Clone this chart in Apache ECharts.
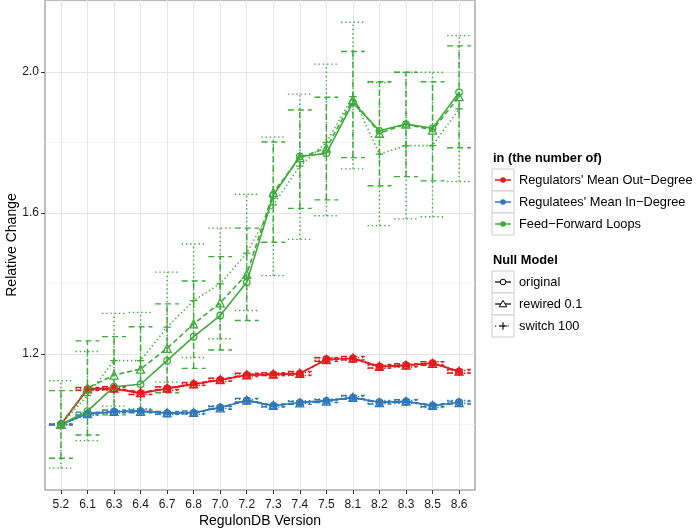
<!DOCTYPE html>
<html><head><meta charset="utf-8">
<script src="https://cdn.jsdelivr.net/npm/echarts@6/dist/echarts.min.js"></script>
<style>html,body{margin:0;padding:0;background:#fff}#c{width:700px;height:530px}</style>
</head><body><div id="c"></div>
<script>
const categories = ['5.2','6.1','6.3','6.4','6.7','6.8','7.0','7.2','7.3','7.4','7.5','8.1','8.2','8.3','8.5','8.6'];
const yTickLabels = [1.2, 1.6, 2.0];
const yMinorLines = [1.0, 1.4, 1.8, 2.2];

// Regulators' Mean Out-Degree
const redOriginal = [1.000,1.100,1.102,1.088,1.102,1.114,1.126,1.140,1.142,1.144,1.185,1.187,1.164,1.168,1.174,1.150];
const redRewired  = [1.000,1.101,1.103,1.090,1.103,1.115,1.127,1.141,1.143,1.145,1.184,1.188,1.165,1.168,1.173,1.151];
const redSwitch   = [1.000,1.099,1.101,1.089,1.101,1.113,1.126,1.139,1.142,1.143,1.186,1.186,1.163,1.167,1.174,1.149];
const redRewiredErr = [0,0.004,0.004,0.005,0.004,0.004,0.004,0.004,0.004,0.005,0.005,0.005,0.005,0.004,0.005,0.005];
const redSwitchErr  = [0,0.003,0.004,0.004,0.004,0.003,0.004,0.004,0.003,0.004,0.004,0.004,0.004,0.004,0.004,0.004];

// Regulatees' Mean In-Degree
const blueOriginal = [1.000,1.030,1.036,1.038,1.032,1.033,1.048,1.068,1.053,1.062,1.067,1.076,1.063,1.065,1.053,1.063];
const blueRewired  = [1.000,1.031,1.037,1.037,1.033,1.034,1.047,1.069,1.054,1.061,1.066,1.077,1.062,1.066,1.054,1.062];
const blueSwitch   = [1.000,1.029,1.035,1.039,1.031,1.032,1.049,1.067,1.052,1.063,1.068,1.075,1.064,1.064,1.052,1.064];
const blueRewiredErr = [0,0.004,0.004,0.004,0.004,0.004,0.004,0.005,0.004,0.004,0.004,0.005,0.004,0.004,0.004,0.004];
const blueSwitchErr  = [0,0.003,0.003,0.004,0.003,0.003,0.004,0.004,0.003,0.004,0.004,0.004,0.004,0.004,0.004,0.004];

// Feed-Forward Loops
const greenOriginal = [1.000,1.038,1.107,1.114,1.181,1.249,1.309,1.403,1.650,1.760,1.769,1.913,1.833,1.852,1.840,1.942];
const greenRewired  = [1.000,1.103,1.140,1.157,1.216,1.285,1.345,1.426,1.658,1.757,1.784,1.921,1.826,1.852,1.835,1.930];
const greenSwitch   = [1.000,1.082,1.181,1.181,1.276,1.351,1.399,1.486,1.623,1.733,1.800,1.930,1.767,1.791,1.791,1.895];
const greenRewiredLo = [0.904,0.970,1.027,1.037,1.090,1.159,1.211,1.295,1.517,1.613,1.637,1.757,1.677,1.703,1.691,1.785];
const greenRewiredHi = [1.096,1.237,1.249,1.277,1.342,1.407,1.476,1.557,1.801,1.892,1.928,2.058,1.972,1.999,1.972,2.074];
const greenSwitchLo  = [0.876,0.954,1.052,1.044,1.120,1.190,1.243,1.323,1.422,1.525,1.592,1.725,1.564,1.583,1.589,1.689];
const greenSwitchHi  = [1.124,1.207,1.315,1.318,1.432,1.512,1.557,1.653,1.815,1.937,2.022,2.141,1.970,1.999,1.999,2.103];

const metricNames = ["Regulators' Mean Out\u2212Degree", "Regulatees' Mean In\u2212Degree", "Feed\u2212Forward Loops"];
const modelNames = ['original', 'rewired 0.1', 'switch 100'];
const colors = ['#E41A1C', '#2F78B8', '#3DAA3A'];

const FONT = "'Liberation Sans', Arial, Helvetica, sans-serif";
const PLUS = 'path://M5,0 L5,10 M0,5 L10,5';
const DASH = [5, 3];
const DOT = [1.3, 2.7];
const EDASH = [6, 4];
const EDOT = [1.4, 2.8];
const CAP = 0.45;

function pairs(arr) { return arr.map((v, i) => [i, v]); }
function lineSeries(vals, color, model) {
  const sym = model === 0 ? 'circle' : model === 1 ? 'triangle' : PLUS;
  const size = model === 0 ? 6.5 : model === 1 ? 8 : 7.5;
  return {
    type: 'line', data: pairs(vals), symbol: sym, symbolSize: size,
    showSymbol: true, silent: true, animation: false,
    lineStyle: { color: color, width: 1.6, type: model === 0 ? 'solid' : model === 1 ? DASH : DOT },
    itemStyle: { color: 'rgba(0,0,0,0)', borderColor: color, borderWidth: 1.3 },
    emphasis: { disabled: true }, z: 3
  };
}
function errSeries(lo, hi, color, dash) {
  return {
    type: 'custom', silent: true, animation: false, clip: false, z: 2,
    data: lo.map((l, i) => [i, l, hi[i]]),
    encode: { x: 0, y: [1, 2] },
    renderItem: function (params, api) {
      const x = api.value(0), l = api.value(1), h = api.value(2);
      const pL = api.coord([x, l]), pH = api.coord([x, h]);
      const xl = api.coord([x - CAP, l])[0], xr = api.coord([x + CAP, l])[0];
      const st = { stroke: color, lineWidth: 1.4, lineDash: dash, fill: null };
      return { type: 'group', children: [
        { type: 'line', shape: { x1: pL[0], y1: pL[1], x2: pH[0], y2: pH[1] }, style: st },
        { type: 'line', shape: { x1: xl, y1: pL[1], x2: xr, y2: pL[1] }, style: st },
        { type: 'line', shape: { x1: xl, y1: pH[1], x2: xr, y2: pH[1] }, style: st }
      ]};
    }
  };
}
const minusPlus = (v, e, s) => v.map((x, i) => +(x + s * e[i]).toFixed(4));

const series = [];
const metrics = [
  [redOriginal, redRewired, redSwitch, minusPlus(redRewired, redRewiredErr, -1), minusPlus(redRewired, redRewiredErr, 1), minusPlus(redSwitch, redSwitchErr, -1), minusPlus(redSwitch, redSwitchErr, 1)],
  [blueOriginal, blueRewired, blueSwitch, minusPlus(blueRewired, blueRewiredErr, -1), minusPlus(blueRewired, blueRewiredErr, 1), minusPlus(blueSwitch, blueSwitchErr, -1), minusPlus(blueSwitch, blueSwitchErr, 1)],
  [greenOriginal, greenRewired, greenSwitch, greenRewiredLo, greenRewiredHi, greenSwitchLo, greenSwitchHi]
];
metrics.forEach((m, k) => {
  series.push(errSeries(m[3], m[4], colors[k], EDASH));
  series.push(errSeries(m[5], m[6], colors[k], EDOT));
  series.push(lineSeries(m[0], colors[k], 0));
  series.push(lineSeries(m[1], colors[k], 1));
  series.push(lineSeries(m[2], colors[k], 2));
});

// legend (drawn as graphic elements)
const LX = 492, KW = 22, LF = '12.8px ';
const g = [];
function keyBox(cy) {
  g.push({ type: 'rect', shape: { x: LX, y: cy - KW / 2, width: KW, height: KW }, style: { fill: '#fff', stroke: '#CCCCCC', lineWidth: 1 } });
}
g.push({ type: 'text', x: LX + 1, y: 158, style: { text: 'in (the number of)', font: 'bold ' + LF + FONT, fill: '#000', verticalAlign: 'middle' } });
metricNames.forEach((name, k) => {
  const cy = 180 + k * 22;
  keyBox(cy);
  g.push({ type: 'line', shape: { x1: LX + 3, y1: cy, x2: LX + KW - 3, y2: cy }, style: { stroke: colors[k], lineWidth: 1.5 } });
  g.push({ type: 'circle', shape: { cx: LX + KW / 2, cy: cy, r: 2.8 }, style: { fill: colors[k] } });
  g.push({ type: 'text', x: LX + KW + 5, y: cy, style: { text: name, font: LF + FONT, fill: '#000', verticalAlign: 'middle' } });
});
g.push({ type: 'text', x: LX + 1, y: 260, style: { text: 'Null Model', font: 'bold ' + LF + FONT, fill: '#000', verticalAlign: 'middle' } });
modelNames.forEach((name, k) => {
  const cy = 282 + k * 22;
  const cx = LX + KW / 2;
  keyBox(cy);
  g.push({ type: 'line', shape: { x1: LX + 3, y1: cy, x2: LX + KW - 3, y2: cy }, style: { stroke: '#000', lineWidth: 1.2, lineDash: k === 2 ? [1.2, 3] : null } });
  if (k === 0) g.push({ type: 'circle', shape: { cx: cx, cy: cy, r: 2.8 }, style: { fill: '#fff', stroke: '#000', lineWidth: 1 } });
  if (k === 1) g.push({ type: 'polygon', shape: { points: [[cx, cy - 3.6], [cx - 3.8, cy + 2.8], [cx + 3.8, cy + 2.8]] }, style: { fill: '#fff', stroke: '#000', lineWidth: 1 } });
  if (k === 2) {
    g.push({ type: 'line', shape: { x1: cx, y1: cy - 3.8, x2: cx, y2: cy + 3.8 }, style: { stroke: '#000', lineWidth: 1.1 } });
    g.push({ type: 'line', shape: { x1: cx - 3.8, y1: cy, x2: cx + 3.8, y2: cy }, style: { stroke: '#000', lineWidth: 1.1 } });
  }
  g.push({ type: 'text', x: LX + KW + 5, y: cy, style: { text: name, font: LF + FONT, fill: '#000', verticalAlign: 'middle' } });
});

const chart = echarts.init(document.getElementById('c'), null, { renderer: 'canvas' });
chart.setOption({
  animation: false,
  backgroundColor: '#fff',
  textStyle: { fontFamily: FONT },
  grid: { left: 45, top: 0, width: 430, height: 490, show: true, borderColor: '#7F7F7F', borderWidth: 1, backgroundColor: '#fff', containLabel: false, outerBoundsMode: 'none' },
  xAxis: {
    type: 'value', min: -0.6, max: 15.6,
    name: 'RegulonDB Version', nameLocation: 'middle', nameGap: 24, nameMoveOverlap: false,
    nameTextStyle: { fontSize: 14, color: '#000', fontFamily: FONT },
    axisLine: { show: false, onZero: false },
    axisTick: { show: true, length: 4, lineStyle: { color: '#333' }, customValues: categories.map((c, i) => i) },
    axisLabel: { customValues: categories.map((c, i) => i), formatter: v => categories[Math.round(v)], fontSize: 12, color: '#1a1a1a', margin: 9, fontFamily: FONT },
    splitLine: { show: true, lineStyle: { color: '#E5E5E5', width: 1 } }
  },
  yAxis: [{
    type: 'value', min: 0.814, max: 2.204,
    name: 'Relative Change', nameLocation: 'middle', nameGap: 26, nameRotate: 90, nameMoveOverlap: false,
    nameTextStyle: { fontSize: 14, color: '#000', fontFamily: FONT },
    axisLine: { show: false, onZero: false },
    axisTick: { show: true, length: 4, lineStyle: { color: '#333' }, customValues: yTickLabels },
    axisLabel: { customValues: yTickLabels, formatter: v => v.toFixed(1), fontSize: 12, color: '#1a1a1a', margin: 6, fontFamily: FONT },
    splitLine: { show: true, lineStyle: { color: '#E5E5E5', width: 1 } }
  }, {
    type: 'value', min: 0.814, max: 2.204, position: 'left',
    axisLine: { show: false, onZero: false }, axisLabel: { show: false, customValues: yMinorLines },
    axisTick: { show: false, customValues: yMinorLines },
    splitLine: { show: true, lineStyle: { color: '#F3F3F3', width: 0.8 } }
  }],
  series: series,
  graphic: g
});
</script></body></html>
